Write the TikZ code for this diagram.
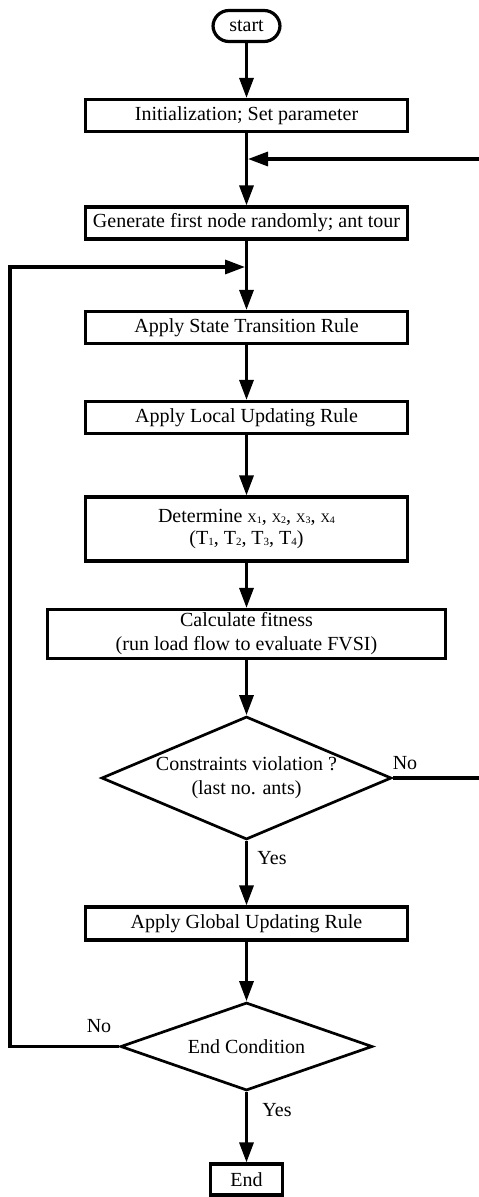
\documentclass[tikz,border=0pt]{standalone}
\usepackage{fontspec}
\setmainfont{Liberation Serif}
\usetikzlibrary{arrows.meta,shapes.geometric}
\newcommand\xsub[1]{{\fontsize{13}{13}\selectfont X}\raisebox{-1pt}{\fontsize{10}{10}\selectfont #1}}
\newcommand\tsub[1]{T\raisebox{-1pt}{\fontsize{11}{11}\selectfont #1}}
\begin{document}
\begin{tikzpicture}[x=1pt,y=-1pt,
  font=\fontsize{20}{24}\selectfont,
  box/.style={draw, line width=3.2pt, rectangle, inner sep=0pt, minimum width=322pt, minimum height=32pt, align=center},
  term/.style={draw, line width=3.2pt, rectangle, rounded corners=16pt, inner sep=0pt, minimum width=67pt, minimum height=31pt},
  dec/.style={draw, line width=2.7pt, diamond, inner sep=0pt, align=center},
  flow/.style={line width=3.2pt, -{Triangle[length=20pt,width=14pt]}},
  lbl/.style={inner sep=0pt}]
\useasboundingbox (0,0) rectangle (479,1197);

\node[term] (start) at (246.5,26) {start};
\node[box] (init) at (246.5,115.5) {Initialization; Set parameter};
\node[box] (gen) at (246.5,223) {Generate first node randomly; ant tour};
\node[box] (state) at (246.5,327.5) {Apply State Transition Rule};
\node[box] (local) at (246.5,417.5) {Apply Local Updating Rule};
\node[box, minimum height=64pt] (det) at (246.5,529) {Determine \xsub{1}, \xsub{2}, \xsub{3}, \xsub{4}\\[-2pt](\tsub{1}, \tsub{2}, \tsub{3}, \tsub{4})};
\node[box, minimum width=398pt, minimum height=49pt] (calc) at (246.5,634) {Calculate fitness\\(run load flow to evaluate FVSI)};
\node[dec, aspect=2.35, minimum width=290pt, minimum height=123pt] (cons) at (246.5,778) {Constraints violation ?\\(last no. ants)};
\node[box, minimum height=33pt] (glob) at (246.5,923.5) {Apply Global Updating Rule};
\node[dec, aspect=2.84, minimum width=252pt, minimum height=88pt] (endc) at (246.5,1046.5) {End Condition};
\node[box, minimum width=72pt, minimum height=31pt] (end) at (246.5,1179.5) {End};

\coordinate (rin) at (248,159);
\coordinate (lin) at (245,267);
\coordinate (rx) at (487,0);
\coordinate (lx) at (10,0);

\draw[flow] (start) -- (init);
\draw[flow] (init) -- (gen);
\draw[flow] (gen) -- (state);
\draw[flow] (state) -- (local);
\draw[flow] (local) -- (det);
\draw[flow] (det) -- (calc);
\draw[flow] (calc) -- (cons);
\draw[flow] (cons) -- (glob);
\draw[flow] (glob) -- (endc);
\draw[flow] (endc) -- (end);
\draw[flow] (cons.east) -- (cons.east -| rx) |- (rin);
\draw[flow] (endc.west) -- (endc.west -| lx) |- (lin);

\node[lbl] (no1) at (405,763) {No};
\node[lbl] (yes1) at (272,858) {Yes};
\node[lbl] (no2) at (99,1026) {No};
\node[lbl] (yes2) at (277,1110) {Yes};
\end{tikzpicture}
\end{document}
